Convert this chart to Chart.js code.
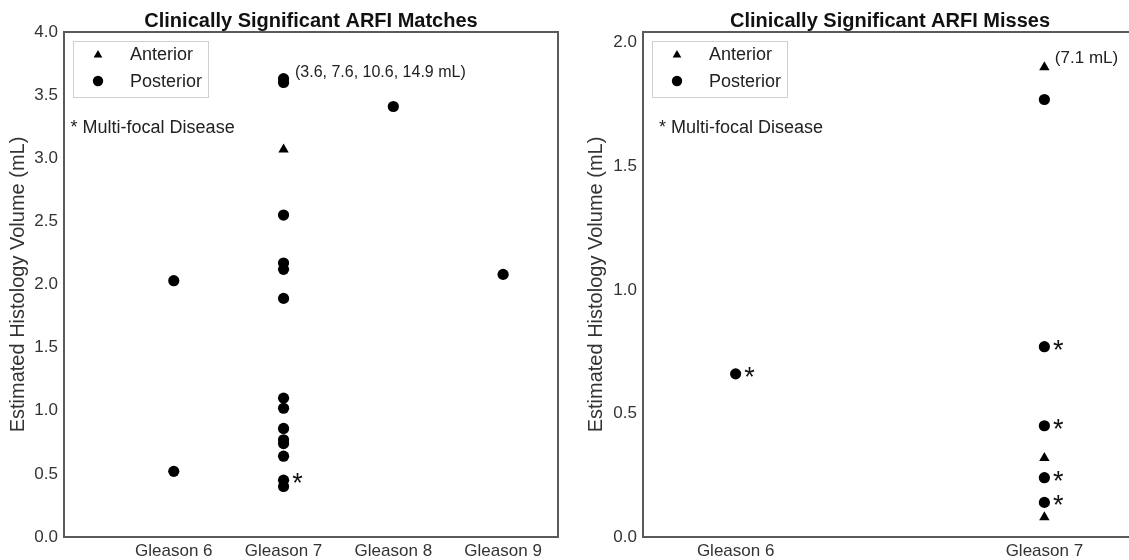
<!DOCTYPE html>
<html>
<head>
<meta charset="utf-8">
<script src="https://cdn.jsdelivr.net/npm/chart.js@4/dist/chart.umd.min.js"></script>
<style>
html,body{margin:0;padding:0;background:#fff;overflow:hidden;}
#wrap{position:relative;width:1129px;height:560px;overflow:hidden;background:#fff;}
#c1{position:absolute;left:0;top:0;}
#c2{position:absolute;left:570px;top:0;}
</style>
</head>
<body>
<div id="wrap">
<canvas id="c1" width="566" height="560"></canvas>
<canvas id="c2" width="575" height="560"></canvas>
</div>
<script>
// ---------- DATA ----------
// Panel 1: Clinically Significant ARFI Matches
const matchCategories = ['Gleason 6', 'Gleason 7', 'Gleason 8', 'Gleason 9'];
const matchYTicks = [0.0, 0.5, 1.0, 1.5, 2.0, 2.5, 3.0, 3.5, 4.0];
const matchAnteriorCat = [1];
const matchAnteriorVol = [3.07];
const matchPosteriorCat = [0, 0, 1, 1, 1, 1, 1, 1, 1, 1, 1, 1, 1, 1, 1, 1, 2, 3];
const matchPosteriorVol = [2.03, 0.52, 3.63, 3.60, 2.55, 2.17, 2.12, 1.89, 1.10, 1.02, 0.86, 0.77, 0.74, 0.64, 0.45, 0.40, 3.41, 2.08];
const matchPosteriorMulti = [0, 0, 0, 0, 0, 0, 0, 0, 0, 0, 0, 0, 0, 0, 1, 0, 0, 0];
const matchNote = '(3.6, 7.6, 10.6, 14.9 mL)';

// Panel 2: Clinically Significant ARFI Misses
const missCategories = ['Gleason 6', 'Gleason 7'];
const missYTicks = [0.0, 0.5, 1.0, 1.5, 2.0];
const missAnteriorCat = [1, 1, 1];
const missAnteriorVol = [1.90, 0.32, 0.08];
const missPosteriorCat = [0, 1, 1, 1, 1, 1];
const missPosteriorVol = [0.66, 1.77, 0.77, 0.45, 0.24, 0.14];
const missPosteriorMulti = [1, 0, 1, 1, 1, 1];
const missNote = '(7.1 mL)';

const legendLabels = ['Anterior', 'Posterior'];
const multiFocalText = '* Multi-focal Disease';
const yAxisTitle = 'Estimated Histology Volume (mL)';

// ---------- RENDERING ----------
const FAMILY = '"Liberation Sans", Arial, Helvetica, sans-serif';
Chart.defaults.font.family = FAMILY;
Chart.defaults.color = '#333';

function pts(cats, vals) { return cats.map((c, i) => ({ x: c, y: vals[i] })); }

const deco = {
  id: 'deco',
  afterDraw(chart, args, o) {
    const { ctx, chartArea: a, scales: { x, y } } = chart;
    ctx.save();
    // frame
    ctx.strokeStyle = '#5a5a5a';
    ctx.lineWidth = 2;
    ctx.strokeRect(a.left, a.top, a.right - a.left, a.bottom - a.top);
    // title
    ctx.fillStyle = '#111';
    ctx.font = 'bold 20px ' + FAMILY;
    ctx.textAlign = 'center';
    ctx.textBaseline = 'alphabetic';
    ctx.fillText(o.title, (a.left + a.right) / 2, 27);
    // legend box
    const lx = a.left + 9, ly = 41;
    ctx.fillStyle = '#fff';
    ctx.fillRect(lx, ly, 135, 56);
    ctx.strokeStyle = '#cfcfcf';
    ctx.lineWidth = 1;
    ctx.strokeRect(lx + 0.5, ly + 0.5, 135, 56);
    ctx.fillStyle = '#000';
    // triangle marker
    const tx = a.left + 34, ty = 55, tr = 5;
    ctx.beginPath();
    ctx.moveTo(tx, ty - tr);
    ctx.lineTo(tx + tr * 0.866, ty + tr * 0.5);
    ctx.lineTo(tx - tr * 0.866, ty + tr * 0.5);
    ctx.closePath();
    ctx.fill();
    // circle marker
    ctx.beginPath();
    ctx.arc(a.left + 34, 81, 5.2, 0, Math.PI * 2);
    ctx.fill();
    ctx.fillStyle = '#222';
    ctx.font = '18px ' + FAMILY;
    ctx.textAlign = 'left';
    ctx.fillText(legendLabels[0], a.left + 66, 60);
    ctx.fillText(legendLabels[1], a.left + 66, 87);
    // multifocal note
    ctx.fillText(multiFocalText, x.getPixelForValue(o.mfX), y.getPixelForValue(o.mfY));
    // volume note
    ctx.font = o.noteSize + 'px ' + FAMILY;
    ctx.fillText(o.note, x.getPixelForValue(o.noteX), y.getPixelForValue(o.noteY));
    // asterisks for multifocal points
    ctx.font = '27px ' + FAMILY;
    ctx.textAlign = 'center';
    ctx.fillStyle = '#111';
    o.multiCat.forEach((c, i) => {
      if (!o.multiFlag[i]) return;
      const px = x.getPixelForValue(c), py = y.getPixelForValue(o.multiVol[i]);
      ctx.fillText('*', px + 14, py + 12);
    });
    ctx.restore();
  }
};

function makeChart(id, cfg) {
  return new Chart(document.getElementById(id), {
    type: 'scatter',
    data: {
      datasets: [
        { label: legendLabels[0], data: pts(cfg.antCat, cfg.antVol), pointStyle: 'triangle',
          pointRadius: 6, backgroundColor: '#000', borderColor: '#000', borderWidth: 0 },
        { label: legendLabels[1], data: pts(cfg.postCat, cfg.postVol), pointStyle: 'circle',
          pointRadius: 5.6, backgroundColor: '#000', borderColor: '#000', borderWidth: 0 }
      ]
    },
    options: {
      responsive: false,
      animation: false,
      events: [],
      devicePixelRatio: 1,
      layout: { padding: { top: 32, right: 8, bottom: 0, left: 0 } },
      plugins: {
        legend: { display: false },
        tooltip: { enabled: false },
        deco: cfg.deco
      },
      scales: {
        x: {
          type: 'linear', min: cfg.xMin, max: cfg.xMax,
          afterBuildTicks: s => { s.ticks = cfg.cats.map((c, i) => ({ value: i })); },
          afterFit: s => { s.height = 23; },
          grid: { display: false, drawTicks: false },
          border: { display: false },
          ticks: { autoSkip: false, maxRotation: 0, padding: 4, color: '#333',
            font: { size: 17 }, callback: v => cfg.cats[v] }
        },
        y: {
          type: 'linear', min: 0, max: cfg.yMax,
          afterBuildTicks: s => { s.ticks = cfg.yTicks.map(v => ({ value: v })); },
          afterFit: s => { s.width = cfg.yWidth; },
          grid: { display: false, drawTicks: false },
          border: { display: false },
          ticks: { padding: 6, color: '#333', font: { size: 17 }, callback: v => Number(v).toFixed(1) },
          title: { display: true, text: yAxisTitle, color: '#333', font: { size: 20 },
            padding: { top: cfg.titlePad, bottom: 0 } }
        }
      }
    },
    plugins: [deco]
  });
}

makeChart('c1', {
  cats: matchCategories, yTicks: matchYTicks, xMin: -1, xMax: 3.5, yMax: 4.0, yWidth: 64, titlePad: 6,
  antCat: matchAnteriorCat, antVol: matchAnteriorVol, postCat: matchPosteriorCat, postVol: matchPosteriorVol,
  deco: { title: 'Clinically Significant ARFI Matches', mfX: -0.94, mfY: 3.20,
    note: matchNote, noteX: 1.104, noteY: 3.645, noteSize: 16,
    multiCat: matchPosteriorCat, multiVol: matchPosteriorVol, multiFlag: matchPosteriorMulti }
});

makeChart('c2', {
  cats: missCategories, yTicks: missYTicks, xMin: -0.3, xMax: 1.3, yMax: 2.043, yWidth: 73, titlePad: 14.5,
  antCat: missAnteriorCat, antVol: missAnteriorVol, postCat: missPosteriorCat, postVol: missPosteriorVol,
  deco: { title: 'Clinically Significant ARFI Misses', mfX: -0.248, mfY: 1.635,
    note: missNote, noteX: 1.034, noteY: 1.918, noteSize: 17,
    multiCat: missPosteriorCat, multiVol: missPosteriorVol, multiFlag: missPosteriorMulti }
});
</script>
</body>
</html>
